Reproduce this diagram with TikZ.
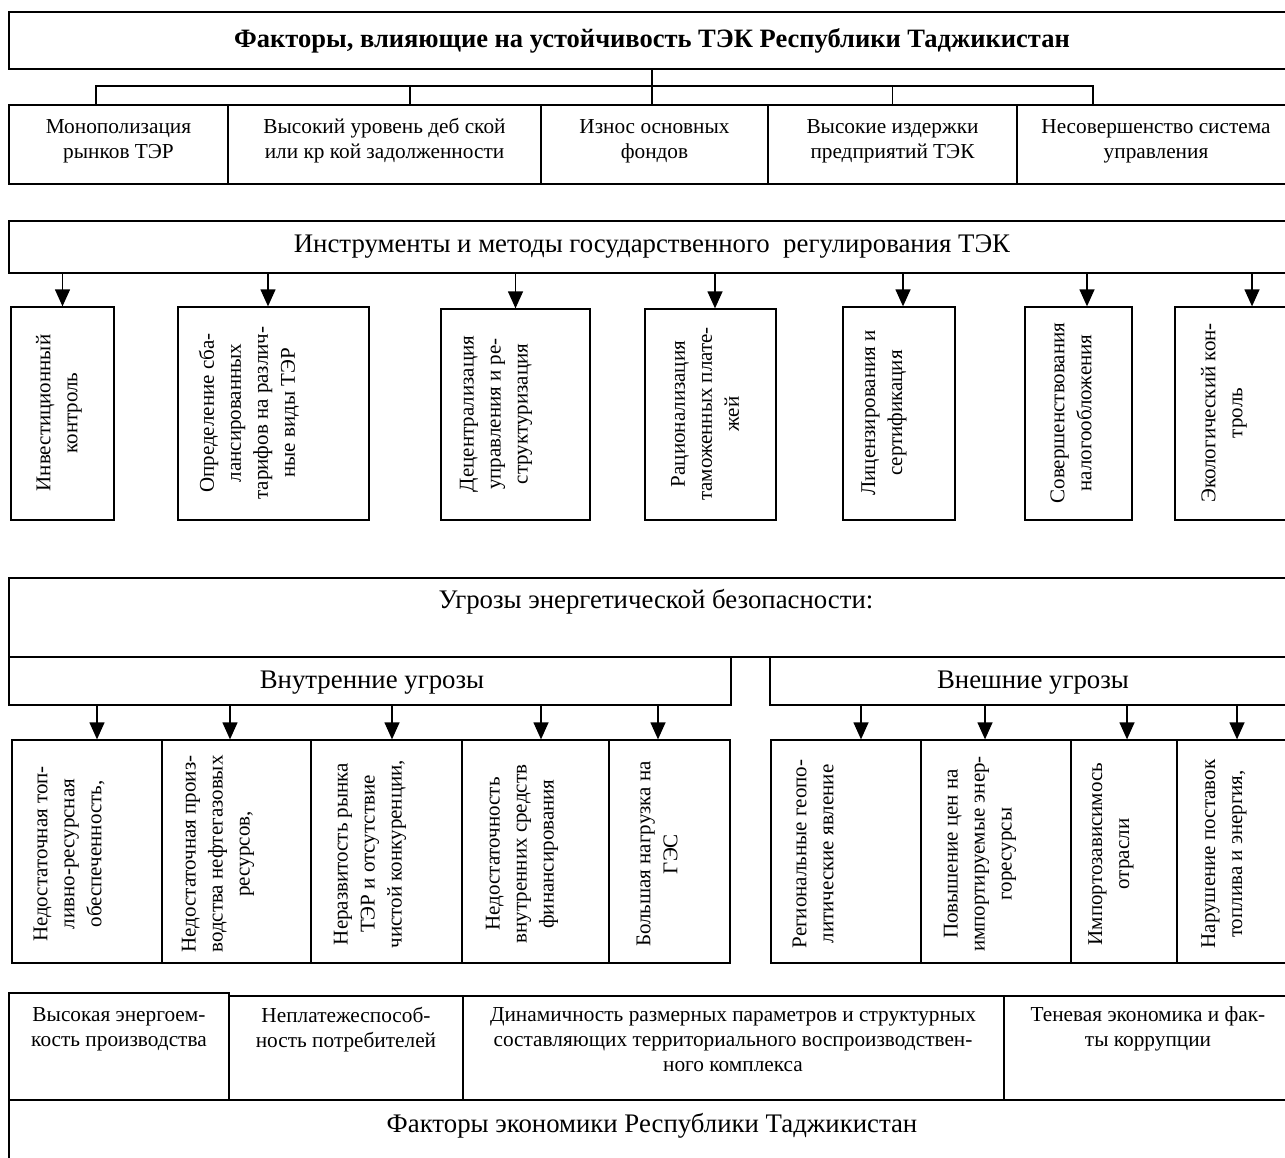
\documentclass[tikz,border=0pt]{standalone}
\usepackage{fontspec}
\setmainfont{Liberation Serif}
\usetikzlibrary{arrows.meta,fit}
\begin{document}
\begin{tikzpicture}[x=1pt,y=-1pt,
  box/.style={draw, line width=1.3pt, rectangle, inner sep=0pt},
  txt/.style={font=\fontsize{21.3}{25}\selectfont, align=center, inner sep=0pt},
  rtxt/.style={font=\fontsize{21}{27}\selectfont, align=center, inner sep=0pt, rotate=90},
  btxt/.style={font=\fontsize{21.3}{25}\selectfont, align=center, inner sep=0pt, anchor=north},
  big/.style={font=\fontsize{26.8}{30}\selectfont, inner sep=0pt},
  arr/.style={line width=1.3pt, -{Triangle[length=17pt,width=15pt]}},
  ln/.style={line width=1.3pt}]
\useasboundingbox (0,0) rectangle (1285,1157);
\clip (0,0) rectangle (1285,1157);

% ---------- Section 1 ----------
\node[box, fit={(9,12)(1295,69)}] (T) {};
\node[txt, font=\bfseries\fontsize{26.5}{30}\selectfont] (Tt) at (652,41) {Факторы, влияющие на устойчивость ТЭК Республики Таджикистан};

\node[box, fit={(9,105)(228,184)}] (f1) {};
\node[box, fit={(228,105)(541,184)}] (f2) {};
\node[box, fit={(541,105)(768,184)}] (f3) {};
\node[box, fit={(768,105)(1017,184)}] (f4) {};
\node[box, fit={(1017,105)(1295,184)}] (f5) {};
\node[txt] (f1t) at (118.5,141) {Монополизация\\рынков ТЭР};
\node[txt] (f2t) at (384.5,141) {Высокий уровень деб ской\\или кр кой задолженности};
\node[txt] (f3t) at (654.5,141) {Износ основных\\фондов};
\node[txt] (f4t) at (892.5,141) {Высокие издержки\\предприятий ТЭК};
\node[txt] (f5t) at (1156,141) {Несовершенство система\\управления};

\coordinate (bus) at (652,86);
\draw[ln] (T.south) -- (T.south |- f3.north);
\draw[ln] ([xshift=-22.5pt]f1.north) |- (bus) -| ([xshift=-63pt]f5.north);
\draw[ln] ([xshift=25.5pt]f2.north) -- ++(0,-19);
\draw[ln] (f4.north) -- ++(0,-19);

% ---------- Section 2 ----------
\node[box, fit={(9,221)(1295,273)}] (I) {};
\node[big] (It) at (652,247) {Инструменты и методы государственного\ \ регулирования ТЭК};

\node[box, fit={(11,307)(114,520)}] (t1) {};
\node[box, fit={(178,307)(369,520)}] (t2) {};
\node[box, fit={(441,309)(590,520)}] (t3) {};
\node[box, fit={(645,309)(776,520)}] (t4) {};
\node[box, fit={(843,307)(955,520)}] (t5) {};
\node[box, fit={(1025,307)(1132,520)}] (t6) {};
\node[box, fit={(1175,307)(1300,520)}] (t7) {};
\node[rtxt] (t1t) at (59,413) {Инвестиционный\\контроль};
\node[rtxt] (t2t) at (249,413) {Определение сба-\\лансированных\\тарифов на различ-\\ные виды ТЭР};
\node[rtxt] (t3t) at (496,414) {Децентрализация\\управления и ре-\\структуризация};
\node[rtxt] (t4t) at (705,414) {Рационализация\\таможенных плате-\\жей};
\node[rtxt] (t5t) at (884,413) {Лицензирования и\\сертификация};
\node[rtxt] (t6t) at (1071,413) {Совершенствования\\налогообложения};
\node[rtxt] (t7t) at (1224,413) {Экологический кон-\\троль};

\coordinate (a1) at (t1.north);
\coordinate (a2) at ([xshift=-5.5pt]t2.north);
\coordinate (a3) at (t3.north);
\coordinate (a4) at ([xshift=4.5pt]t4.north);
\coordinate (a5) at ([xshift=4pt]t5.north);
\coordinate (a6) at ([xshift=8.5pt]t6.north);
\coordinate (a7) at ([xshift=14.5pt]t7.north);
\foreach \a in {a1,a2,a3,a4,a5,a6,a7}
  \draw[arr] (I.south -| \a) -- (\a);

% ---------- Section 3 ----------
\node[box, fit={(9,578)(1295,657)}] (U) {};
\node[big] (Ut) at (656,602) {Угрозы энергетической безопасности:};
\node[box, fit={(9,657)(731,705)}] (Vn) {};
\node[big] (Vnt) at (372,683) {Внутренние угрозы};
\node[box, fit={(770,657)(1295,705)}] (Ex) {};
\node[big] (Ext) at (1033,683) {Внешние угрозы};

\node[box, fit={(12,740)(162,963)}] (v1) {};
\node[box, fit={(162,740)(311,963)}] (v2) {};
\node[box, fit={(311,740)(462,963)}] (v3) {};
\node[box, fit={(462,740)(609,963)}] (v4) {};
\node[box, fit={(609,740)(730,963)}] (v5) {};
\node[box, fit={(771,740)(921,963)}] (e1) {};
\node[box, fit={(921,740)(1071,963)}] (e2) {};
\node[box, fit={(1071,740)(1177,963)}] (e3) {};
\node[box, fit={(1177,740)(1300,963)}] (e4) {};
\node[rtxt] (v1t) at (69,854) {Недостаточная топ-\\ливно-ресурсная\\обеспеченность,};
\node[rtxt] (v2t) at (218,854) {Недостаточная произ-\\водства нефтегазовых\\ресурсов,};
\node[rtxt] (v3t) at (370,854) {Неразвитость рынка\\ТЭР и отсутствие\\чистой конкуренции,};
\node[rtxt] (v4t) at (522,854) {Недостаточность\\внутренних средств\\финансирования};
\node[rtxt] (v5t) at (657,854) {Большая нагрузка на\\ГЭС};
\node[rtxt] (e1t) at (813,854) {Региональные геопо-\\литические явление};
\node[rtxt] (e2t) at (980,854) {Повышение цен на\\импортируемые энер-\\горесурсы};
\node[rtxt] (e3t) at (1111,854) {Импортозависимось\\отрасли};
\node[rtxt] (e4t) at (1224,854) {Нарушение поставок\\топлива и энергия,};

\coordinate (p1) at ([xshift=10pt]v1.north);
\coordinate (p2) at ([xshift=-6.5pt]v2.north);
\coordinate (p3) at ([xshift=5.5pt]v3.north);
\coordinate (p4) at ([xshift=5.5pt]v4.north);
\coordinate (p5) at ([xshift=-11.5pt]v5.north);
\foreach \p in {p1,p2,p3,p4,p5}
  \draw[arr] (Vn.south -| \p) -- (\p);
\coordinate (q1) at ([xshift=15pt]e1.north);
\coordinate (q2) at ([xshift=-11pt]e2.north);
\coordinate (q3) at ([xshift=3pt]e3.north);
\coordinate (q4) at ([xshift=-1.5pt]e4.north);
\foreach \q in {q1,q2,q3,q4}
  \draw[arr] (Ex.south -| \q) -- (\q);

% ---------- Section 4 ----------
\node[box, fit={(9,993)(229,1100)}] (b1) {};
\node[box, fit={(229,996)(463,1100)}] (b2) {};
\node[box, fit={(463,996)(1004,1100)}] (b3) {};
\node[box, fit={(1004,996)(1300,1100)}] (b4) {};
\node[btxt] (b1t) at (119,1007) {Высокая энергоем-\\кость производства};
\node[btxt] (b2t) at (346,1007) {Неплатежеспособ-\\ность потребителей};
\node[btxt] (b3t) at (733,1007) {Динамичность размерных параметров и структурных\\составляющих территориального воспроизводствен-\\ного комплекса};
\node[btxt] (b4t) at (1148,1007) {Теневая экономика и фак-\\ты коррупции};

\node[box, fit={(9,1100)(1300,1175)}] (EF) {};
\node[big] (EFt) at (652,1126) {Факторы экономики Республики Таджикистан};
\end{tikzpicture}
\end{document}
